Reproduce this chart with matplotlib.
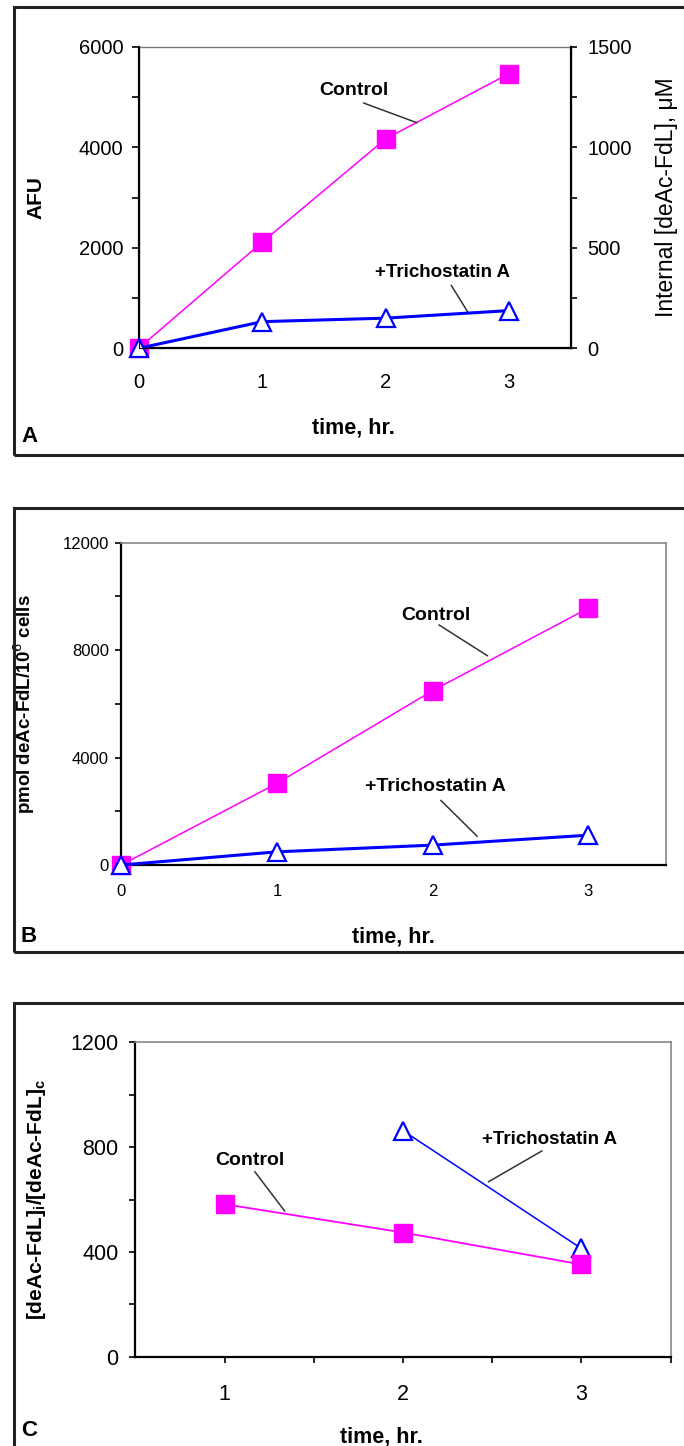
import matplotlib
matplotlib.use('Agg')
import matplotlib.pyplot as plt
from matplotlib.patches import Rectangle
from matplotlib.ticker import MultipleLocator, FixedLocator

plt.rcParams['font.family'] = ['Liberation Sans', 'DejaVu Sans']

# panel A: fluorescence vs time
time_a = [0, 1, 2, 3]
control_a = [0, 2110, 4165, 5465]
tsa_a = [0, 530, 600, 750]

# panel B: pmol deAc-FdL per 10^6 cells
time_b = [0, 1, 2, 3]
control_b = [0, 3040, 6490, 9560]
tsa_b = [0, 490, 740, 1110]

# panel C: internal / external ratio
time_c_control = [1, 2, 3]
control_c = [582, 474, 352]
time_c_tsa = [2, 3]
tsa_c = [863, 413]

MAGENTA = '#ff00ff'
BLUE = '#0000ff'
W, H = 684, 1446


def px_axes(fig, left, top, right, bottom):
    # axes rectangle given in pixel coordinates of the reference
    return fig.add_axes([left / W, 1 - bottom / H, (right - left) / W, (bottom - top) / H])


def frame(fig, top, bottom, letter, letter_y):
    fig.patches.append(Rectangle((14 / W, 1 - bottom / H), 1.2, (bottom - top) / H,
                                 transform=fig.transFigure, fill=False,
                                 edgecolor='#222222', lw=2.2))
    fig.text(21 / W, 1 - letter_y / H, letter, fontsize=16, fontweight='bold',
             ha='left', va='center')


def series(ax, x_ctl, y_ctl, x_tsa, y_tsa, tsa_lw):
    ax.plot(x_ctl, y_ctl, '-', color=MAGENTA, lw=1.1, marker='s', ms=13,
            mfc=MAGENTA, mec=MAGENTA, clip_on=False, zorder=3)
    ax.plot(x_tsa, y_tsa, '-', color=BLUE, lw=tsa_lw, marker='^', ms=12.5,
            mfc='white', mec=BLUE, mew=1.6, clip_on=False, zorder=4)


def label(ax, text, xy_text, p0, p1, size=13.5):
    ax.text(xy_text[0], xy_text[1], text, fontsize=size, fontweight='bold',
            ha='center', va='center', zorder=5)
    ax.annotate('', xy=p1, xytext=p0,
                arrowprops=dict(arrowstyle='-', color='#333333', lw=1.1))


fig = plt.figure(figsize=(W / 100, H / 100), dpi=100)

# ---------------- A ----------------
frame(fig, 7, 455, 'A', 437)
ax = px_axes(fig, 138.7, 46.7, 570.7, 348.3)
series(ax, time_a, control_a, time_a, tsa_a, 2.2)
ax.set_xlim(0, 3.5)
ax.set_ylim(0, 6000)
ax.set_xticks([0, 1, 2, 3])
ax.yaxis.set_major_locator(MultipleLocator(2000))
ax.yaxis.set_minor_locator(MultipleLocator(1000))
ax.tick_params(axis='x', length=0, pad=18, labelsize=14.5)
ax.tick_params(axis='y', which='both', direction='out', length=5, width=1.2, labelsize=14.5, pad=6)
ax.spines['top'].set_color('#777777')
ax.spines['top'].set_linewidth(1)
for s in ('left', 'bottom'):
    ax.spines[s].set_linewidth(1.6)
ax.set_ylabel('AFU', fontsize=15, fontweight='bold')
ax.yaxis.set_label_coords(-0.215, 0.5)
ax.set_xlabel('time, hr.', fontsize=15.5, fontweight='bold')
ax.xaxis.set_label_coords(0.498, -0.228)
ax2 = ax.twinx()
ax2.set_ylim(0, 1500)
ax2.yaxis.set_major_locator(MultipleLocator(500))
ax2.yaxis.set_minor_locator(MultipleLocator(250))
ax2.tick_params(axis='y', which='both', direction='out', length=4, width=1.2, labelsize=14.5, pad=8)
ax2.spines['right'].set_linewidth(1.6)
ax2.spines['top'].set_visible(False)
ax2.set_ylabel('Internal [deAc-FdL], μM', fontsize=16.5, rotation=90)
ax2.yaxis.set_label_coords(1.196, 0.5)
label(ax, 'Control', (1.742, 5133), (1.80, 4900), (2.276, 4467), 14)
label(ax, '+Trichostatin A', (2.459, 1500), (2.52, 1300), (2.68, 667))

# ---------------- B ----------------
frame(fig, 508, 952, 'B', 936)
bx = px_axes(fig, 121.3, 542.7, 666, 865)
series(bx, time_b, control_b, time_b, tsa_b, 2.2)
bx.set_xlim(0, 3.5)
bx.set_ylim(0, 12000)
bx.set_xticks([0, 1, 2, 3])
bx.yaxis.set_major_locator(MultipleLocator(4000))
bx.yaxis.set_minor_locator(MultipleLocator(2000))
bx.tick_params(axis='x', length=0, pad=14, labelsize=12)
bx.tick_params(axis='y', which='both', direction='out', length=4, width=1.2, labelsize=12, pad=5)
for s in ('top', 'right'):
    bx.spines[s].set_color('#888888')
    bx.spines[s].set_linewidth(1.2)
for s in ('left', 'bottom'):
    bx.spines[s].set_linewidth(1.6)
bx.set_ylabel('pmol deAc-FdL/10$^{6}$ cells', fontsize=13.5, fontweight='bold')
bx.yaxis.set_label_coords(-0.154, 0.5)
bx.set_xlabel('time, hr.', fontsize=15.5, fontweight='bold')
bx.xaxis.set_label_coords(0.499, -0.191)
label(bx, 'Control', (2.02, 9305), (2.026, 8995), (2.369, 7730), 14)
label(bx, '+Trichostatin A', (2.018, 2940), (2.04, 2481), (2.30, 993), 14)

# ---------------- C ----------------
frame(fig, 1003, 1460, 'C', 1430)
cx = px_axes(fig, 135.3, 1042.3, 670.6, 1356.7)
cx.plot(time_c_tsa, tsa_c, '-', color=BLUE, lw=1.1, marker='^', ms=12.5,
        mfc='white', mec=BLUE, mew=1.6, clip_on=False, zorder=3)
cx.plot(time_c_control, control_c, '-', color=MAGENTA, lw=1.3, marker='s', ms=13,
        mfc=MAGENTA, mec=MAGENTA, clip_on=False, zorder=4)
cx.set_xlim(0.5, 3.5)
cx.set_ylim(0, 1200)
cx.xaxis.set_major_locator(FixedLocator([1, 2, 3]))
cx.xaxis.set_minor_locator(FixedLocator([1.5, 2.5, 3.5]))
cx.yaxis.set_major_locator(MultipleLocator(400))
cx.yaxis.set_minor_locator(MultipleLocator(200))
cx.tick_params(axis='x', which='both', direction='out', length=4, width=1.2, pad=16, labelsize=15.5)
cx.tick_params(axis='y', which='both', direction='out', length=4, width=1.2, labelsize=15.5, pad=8)
for s in ('top', 'right'):
    cx.spines[s].set_color('#888888')
    cx.spines[s].set_linewidth(1.2)
for s in ('left', 'bottom'):
    cx.spines[s].set_linewidth(1.6)
cx.set_ylabel('[deAc-FdL]$_{\\mathregular{i}}$/[deAc-FdL]$_{\\mathregular{c}}$',
              fontsize=15, fontweight='bold')
cx.yaxis.set_label_coords(-0.164, 0.5)
cx.set_xlabel('time, hr.', fontsize=15.5, fontweight='bold')
cx.xaxis.set_label_coords(0.46, -0.223)
label(cx, 'Control', (1.141, 748), (1.16, 715), (1.347, 547), 14)
label(cx, '+Trichostatin A', (2.823, 830), (2.793, 791), (2.465, 662))

fig.savefig('out.png', dpi=100)
